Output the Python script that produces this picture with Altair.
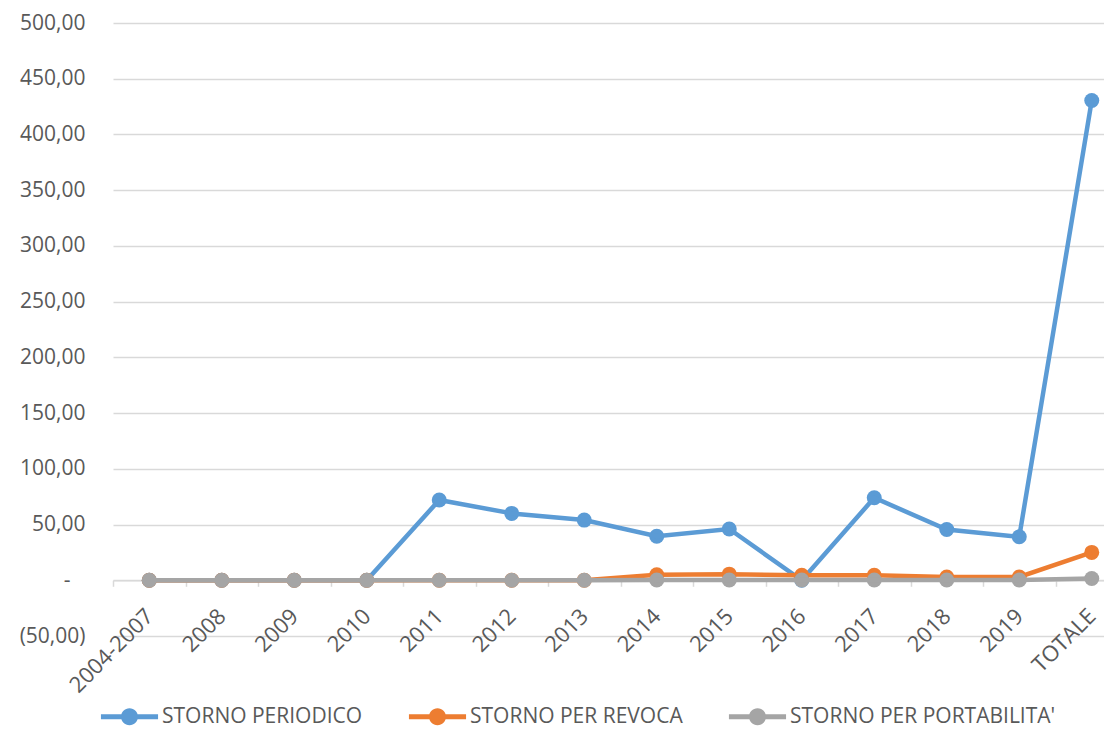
import altair as alt
import pandas as pd

categories = ["2004-2007", "2008", "2009", "2010", "2011", "2012", "2013",
              "2014", "2015", "2016", "2017", "2018", "2019", "TOTALE"]
storno_periodico = [0, 0, 0, 0, 72, 60, 54, 39.5, 46, 0, 74, 45.5, 39, 430.5]
storno_revoca = [0, 0, 0, 0, 0, 0, 0, 5, 5.5, 4.5, 4.5, 3, 3, 25]
storno_portabilita = [0, 0, 0, 0, 0, 0, 0, 0.3, 0.3, 0.3, 0.3, 0.2, 0.2, 1.6]

series_names = ["STORNO PERIODICO", "STORNO PER REVOCA", "STORNO PER PORTABILITA'"]
series_values = [storno_periodico, storno_revoca, storno_portabilita]
series_colors = ["#5B9BD5", "#ED7D31", "#A5A5A5"]

H = 613
W = 991
y_ticks = [-50, 0, 50, 100, 150, 200, 250, 300, 350, 400, 450, 500]

# custom symbol in Vega's [-1, 1] space: a thick line with a dot in the middle
legend_path = ("M-3.36,-0.3 L3.36,-0.3 L3.36,0.3 L-3.36,0.3 Z "
               "M0,-1 A1,1 0 1,1 0,1 A1,1 0 1,1 0,-1 Z")

color_scale = alt.Scale(domain=series_names, range=series_colors)
legend = alt.Legend(
    title=None, orient="none", legendX=6, legendY=683, direction="horizontal",
    columns=3, symbolType=legend_path, symbolSize=289, symbolStrokeWidth=0,
    symbolOpacity=1, labelOffset=22, columnPadding=45, padding=0,
    labelFont="Open Sans", labelFontSize=21, labelColor="#595959", labelLimit=400,
)

x_enc = alt.X(
    "cat:N", sort=categories,
    scale=alt.Scale(domain=categories, range=[0, 1015], paddingInner=0, paddingOuter=0),
    axis=alt.Axis(
        title=None, labelAngle=315, labelAlign="right", labelBaseline="middle",
        labelFont="Open Sans", labelFontSize=22, labelColor="#595959",
        labelPadding=26, tickBand="extent", tickSize=6, tickColor="#D9D9D9",
        tickWidth=1.5, domainColor="#D9D9D9", domainWidth=1.5, grid=False,
        offset=-(H * 50 / 550), labelOverlap=False,
    ),
)
label_expr = ("datum.value == 0 ? '-\u2800' : (datum.value < 0 ? "
              "'(' + replace(format(-datum.value, '.2f'), '.', ',') + ')' : "
              "replace(format(datum.value, '.2f'), '.', ','))")
y_enc = alt.Y(
    "val:Q",
    scale=alt.Scale(domain=[-50, 500], nice=False, zero=False),
    axis=alt.Axis(
        title=None, values=y_ticks, labelExpr=label_expr, labelFont="Open Sans",
        labelFontSize=21, labelColor="#595959", labelPadding=28, ticks=False,
        domain=False, gridColor="#D9D9D9", gridWidth=1.5,
    ),
)

layers = []
for name, vals in zip(series_names, series_values):
    df = pd.DataFrame({"cat": categories, "val": vals, "serie": name})
    base = alt.Chart(df).encode(
        x=x_enc, y=y_enc,
        color=alt.Color("serie:N", scale=color_scale, legend=legend),
    )
    layers.append(base.mark_circle(size=225, opacity=1))
    layers.append(base.mark_line(strokeWidth=4.5))

chart = alt.layer(*layers).properties(
    width=W, height=H,
    autosize=alt.AutoSizeParams(type="none"),
    padding={"top": 15, "left": 105, "right": 0, "bottom": 95},
).configure_view(stroke=None).configure_legend(symbolSize=289)

chart.save("out.html", embed_options={"renderer": "svg", "actions": False})
